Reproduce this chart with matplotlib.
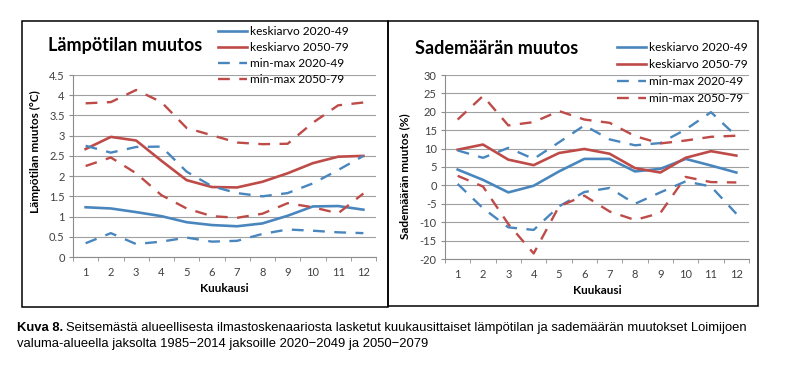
import numpy as np
import matplotlib.pyplot as plt
from matplotlib.patches import Rectangle

kuukaudet = list(range(1, 13))

# Lämpötilan muutos (°C)
t_ka_2020 = [1.23, 1.20, 1.11, 1.01, 0.86, 0.79, 0.76, 0.83, 1.02, 1.25, 1.26, 1.17]
t_ka_2050 = [2.67, 2.97, 2.88, 2.38, 1.90, 1.73, 1.72, 1.86, 2.07, 2.32, 2.48, 2.50]
t_max_2020 = [2.75, 2.58, 2.72, 2.73, 2.11, 1.75, 1.58, 1.50, 1.58, 1.82, 2.15, 2.50]
t_min_2020 = [0.34, 0.59, 0.32, 0.38, 0.48, 0.38, 0.40, 0.57, 0.68, 0.65, 0.61, 0.59]
t_max_2050 = [3.80, 3.83, 4.13, 3.83, 3.19, 3.01, 2.83, 2.79, 2.80, 3.32, 3.75, 3.82]
t_min_2050 = [2.25, 2.46, 2.07, 1.53, 1.20, 1.01, 0.97, 1.07, 1.33, 1.23, 1.08, 1.57]

# Sademäärän muutos (%)
s_ka_2020 = [4.3, 1.5, -1.9, -0.1, 3.8, 7.2, 7.2, 3.8, 4.5, 7.2, 5.4, 3.5]
s_ka_2050 = [9.7, 11.1, 7.0, 5.5, 8.8, 9.9, 8.6, 4.7, 3.5, 7.5, 9.3, 8.1]
s_max_2020 = [9.5, 7.5, 10.2, 7.2, 11.7, 16.3, 12.5, 10.9, 11.5, 15.2, 19.9, 13.4]
s_min_2020 = [0.4, -6.2, -11.4, -12.1, -5.7, -1.8, -0.7, -5.0, -1.9, 1.1, -0.3, -7.7]
s_max_2050 = [17.9, 24.3, 16.3, 17.2, 20.2, 17.9, 17.0, 13.4, 11.4, 12.2, 13.2, 13.5]
s_min_2050 = [2.6, -0.3, -10.5, -18.5, -5.7, -2.8, -7.1, -9.4, -7.5, 2.3, 0.9, 0.8]

sininen = '#4A86BE'
punainen = '#BE4B48'
harmaa = '#8C8C8C'

plt.rcParams['font.family'] = ['Lato', 'DejaVu Sans']

fig = plt.figure(figsize=(7.87, 3.66), dpi=100)
fig.patch.set_facecolor('white')

# kaavioiden kehykset
for x0, y0, x1, y1 in [(22, 21, 388, 307), (388, 21, 758, 306)]:
    fig.patches.append(Rectangle((x0 / 787, 1 - y1 / 366), (x1 - x0) / 787, (y1 - y0) / 366,
                                 transform=fig.transFigure, fill=False, ec='black', lw=1.1))


def kaavio(ax, ka1, ka2, max1, min1, max2, min2, ylim, yticks, ylabel):
    ax.plot(kuukaudet, ka1, color=sininen, lw=1.9, label='keskiarvo 2020-49')
    ax.plot(kuukaudet, ka2, color=punainen, lw=1.9, label='keskiarvo 2050-79')
    ax.plot(kuukaudet, max1, color=sininen, lw=1.7, ls=(0, (5, 4)), label='min-max 2020-49')
    ax.plot(kuukaudet, max2, color=punainen, lw=1.7, ls=(0, (5, 4)), label='min-max 2050-79')
    ax.plot(kuukaudet, min1, color=sininen, lw=1.7, ls=(0, (5, 4)))
    ax.plot(kuukaudet, min2, color=punainen, lw=1.7, ls=(0, (5, 4)))
    ax.set_xlim(0.5, 12.5)
    ax.set_ylim(*ylim)
    ax.set_yticks(yticks)
    ax.set_yticklabels([('%g' % v) for v in yticks])
    ax.set_xticks(kuukaudet)
    ax.set_xticks(np.arange(0.5, 13, 1), minor=True)
    ax.tick_params(labelsize=8, labelcolor='#404040')
    ax.tick_params(axis='x', which='major', length=0, pad=7)
    ax.tick_params(axis='x', which='minor', length=3, color=harmaa, direction='out')
    ax.tick_params(axis='y', length=3, color=harmaa, pad=3)
    ax.grid(axis='y', color='#A0A0A0', lw=0.8)
    ax.set_axisbelow(True)
    for s in ['top', 'right']:
        ax.spines[s].set_visible(False)
    ax.spines['left'].set_color(harmaa)
    ax.spines['bottom'].set_color(harmaa)
    ax.set_xlabel('Kuukausi', fontsize=8.5, fontweight='bold', labelpad=4)
    ax.set_ylabel(ylabel, fontsize=8.5, fontweight='bold', labelpad=4)


ax1 = fig.add_axes([73 / 787, 1 - 257 / 366, 303 / 787, 182 / 366])
kaavio(ax1, t_ka_2020, t_ka_2050, t_max_2020, t_min_2020, t_max_2050, t_min_2050,
       (0, 4.5), [0, 0.5, 1, 1.5, 2, 2.5, 3, 3.5, 4, 4.5], 'Lämpötilan muutos (°C)')
ax1.yaxis.set_label_coords(-0.105, 0.58)

ax2 = fig.add_axes([445 / 787, 1 - 259 / 366, 304 / 787, 184 / 366])
kaavio(ax2, s_ka_2020, s_ka_2050, s_max_2020, s_min_2020, s_max_2050, s_min_2050,
       (-20, 30), list(range(-20, 31, 5)), 'Sademäärän muutos (%)')
ax2.yaxis.set_label_coords(-0.115, 0.45)

# otsikot
fig.text(48 / 787, 1 - 46 / 366, 'Lämpötilan muutos', fontsize=13, fontweight='bold',
         va='center')
fig.text(415 / 787, 1 - 49 / 366, 'Sademäärän muutos', fontsize=13, fontweight='bold',
         va='center')

# selitteet
for x, y, ls in [(218 / 787, 1 - 26 / 366, 0.42), (617 / 787, 1 - 42 / 366, 0.5)]:
    fig.legend(*ax1.get_legend_handles_labels(), loc='upper left',
               bbox_to_anchor=(x, y), frameon=False, handlelength=2.4,
               handletextpad=0.25, borderpad=0, borderaxespad=0,
               labelspacing=ls, prop={'size': 8.6})

# kuvateksti
kt = fig.text(17 / 787, 1 - 328 / 366, 'Kuva 8.', fontsize=9.4, va='center',
              fontweight='bold', family='Liberation Sans')
r = fig.canvas.get_renderer()
bb = kt.get_window_extent(renderer=r)
fig.text(bb.x1 / fig.bbox.width + 3 / 787, 1 - 328 / 366,
         'Seitsemästä alueellisesta ilmastoskenaariosta lasketut kuukausittaiset '
         'lämpötilan ja sademäärän muutokset Loimijoen',
         fontsize=9.4, va='center', family='Liberation Sans')
fig.text(17 / 787, 1 - 344 / 366,
         'valuma-alueella jaksolta 1985\u22122014 jaksoille 2020\u22122049 ja 2050\u22122079',
         fontsize=9.4, va='center', family='Liberation Sans')

fig.savefig('out.png', dpi=100)
